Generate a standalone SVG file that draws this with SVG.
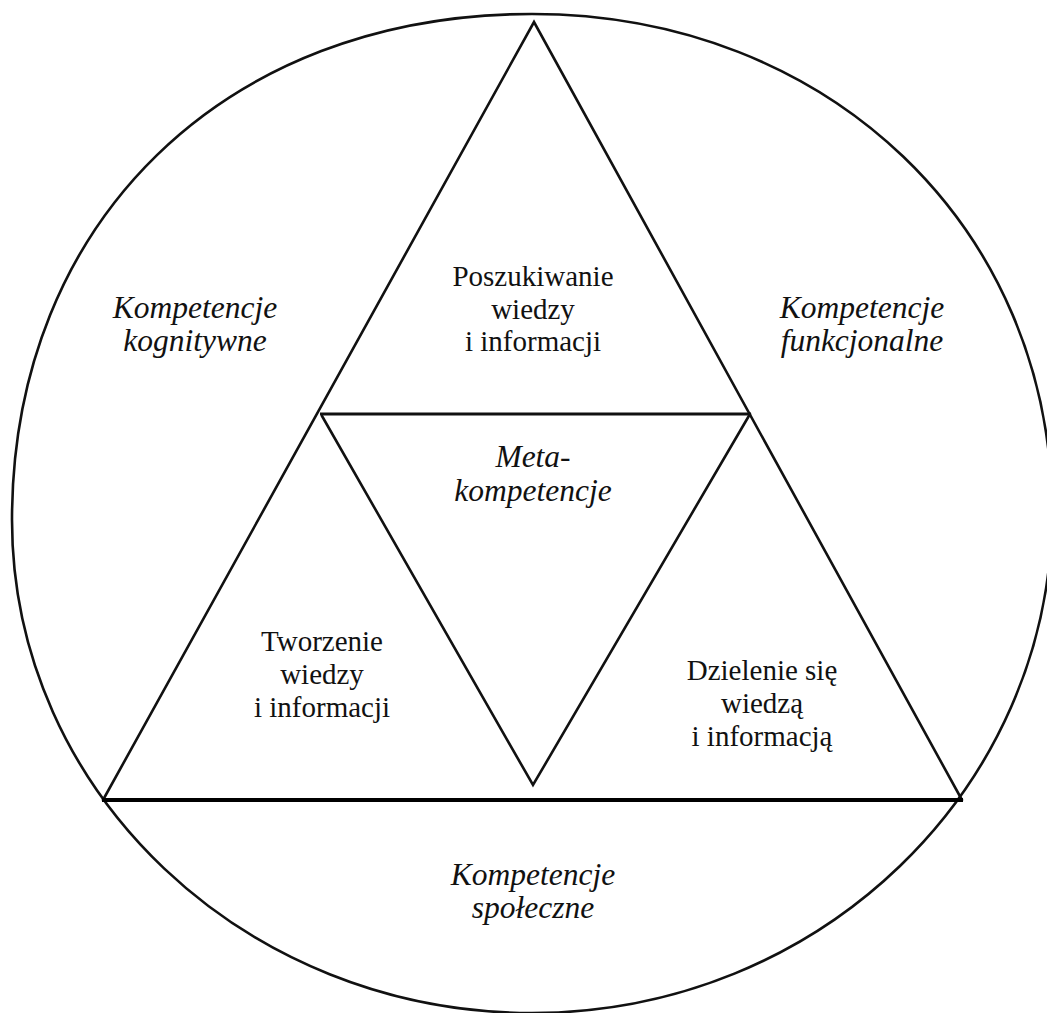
<svg xmlns="http://www.w3.org/2000/svg" width="1047" height="1013" viewBox="0 0 1047 1013">
  <style>
    .line { fill: none; stroke: #111; stroke-width: 2.6; stroke-linejoin: miter; stroke-linecap: round; }
    .base { fill: none; stroke: #000; stroke-width: 4.2; stroke-linecap: butt; }
    .mid { fill: none; stroke: #111; stroke-width: 3; }
    .t { font-family: "Liberation Serif", "Times New Roman", serif; font-size: 29px; fill: #111; text-anchor: middle; }
    .ti { font-family: "Liberation Serif", "Times New Roman", serif; font-size: 31.5px; font-style: italic; fill: #111; text-anchor: middle; }
  </style>
  <rect width="1047" height="1013" fill="#ffffff"/>

  <!-- outer ring and triangle frame -->
  <g id="frame">
    <path class="line" d="M12,520 C12,221.5 225.2,14 532,14 C828.4,14 1052,228 1052,512 C1052,788.7 819.2,1013 532,1013 C244.8,1013 12,792.3 12,520 Z"/>
    <path class="line" d="M103,800 L534,22 L962,800"/>
    <line class="base" x1="102" y1="800" x2="963" y2="800"/>
    <line class="mid" x1="320" y1="414" x2="751" y2="414"/>
    <path class="line" d="M322,416 L533,785 L750,414"/>
  </g>

  <g id="kompetencje-kognitywne">
    <text class="ti" x="195" y="318">Kompetencje</text>
    <text class="ti" x="195" y="351">kognitywne</text>
  </g>

  <g id="kompetencje-funkcjonalne">
    <text class="ti" x="862" y="318">Kompetencje</text>
    <text class="ti" x="862" y="351">funkcjonalne</text>
  </g>

  <g id="poszukiwanie">
    <text class="t" x="533" y="286">Poszukiwanie</text>
    <text class="t" x="533" y="319">wiedzy</text>
    <text class="t" x="533" y="351">i informacji</text>
  </g>

  <g id="metakompetencje">
    <text class="ti" x="533" y="467">Meta-</text>
    <text class="ti" x="533" y="501">kompetencje</text>
  </g>

  <g id="tworzenie">
    <text class="t" x="322" y="651">Tworzenie</text>
    <text class="t" x="322" y="684">wiedzy</text>
    <text class="t" x="322" y="717">i informacji</text>
  </g>

  <g id="dzielenie">
    <text class="t" x="762" y="680">Dzielenie się</text>
    <text class="t" x="762" y="713">wiedzą</text>
    <text class="t" x="762" y="746">i informacją</text>
  </g>

  <g id="kompetencje-spoleczne">
    <text class="ti" x="533" y="885">Kompetencje</text>
    <text class="ti" x="533" y="918">społeczne</text>
  </g>
</svg>
